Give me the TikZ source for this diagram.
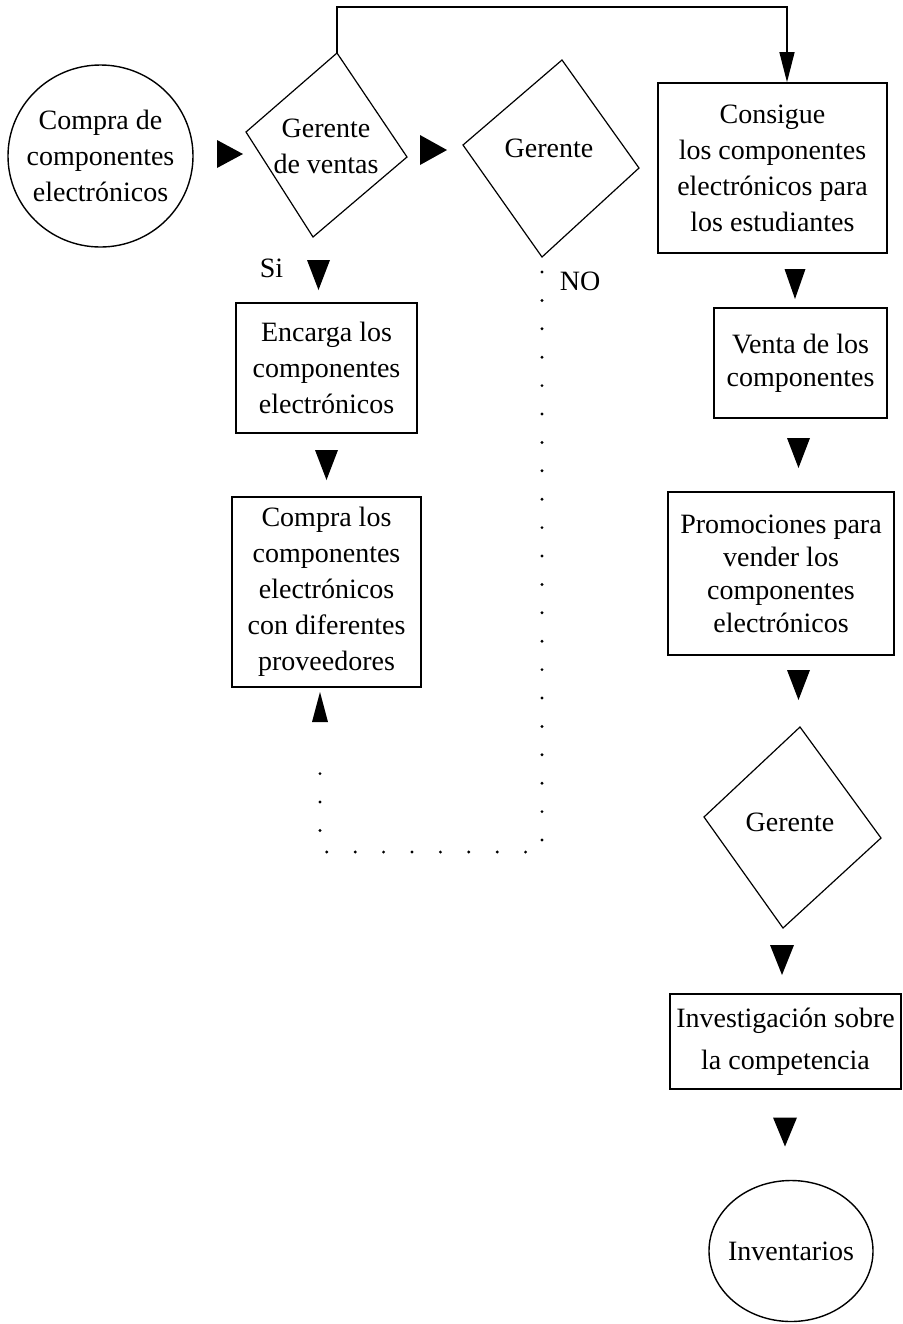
\documentclass[tikz,border=0pt]{standalone}
\usepackage{fontspec}
\setmainfont{Liberation Serif}
\usetikzlibrary{shapes.geometric,arrows.meta,calc}
\begin{document}
\begin{tikzpicture}[x=0.5pt,y=-0.5pt,
  every node/.style={font=\fontsize{14}{18}\selectfont, align=center, inner sep=0pt},
  box/.style={draw, rectangle, line width=0.8pt},
  oval/.style={draw, ellipse, line width=0.7pt, inner xsep=-8pt, inner ysep=0pt},
  diam/.style={draw, line width=0.6pt, line join=miter},
  link/.style={draw, line width=0.6pt},
  dotline/.style={line width=1.6pt, line cap=round, dash pattern=on 0pt off 14.2pt},
  pics/tri/.style args={#1/#2}{code={\fill (-#1/2,-#2/2) -- (#1/2,-#2/2) -- (0,#2/2) -- cycle;}}
]
\useasboundingbox[fill=white] (0,0) rectangle (902,1324);

% start and end events
\node[oval, minimum width=92.5pt, minimum height=91pt] (inicio) at (100.5,156)
  {Compra de\\componentes\\electrónicos};
\node[oval, minimum width=82pt, minimum height=70.5pt] (inventarios) at (791,1251)
  {Inventarios};

% decision 1: sales manager
\begin{scope}[shift={(326,145)}]
  \coordinate (g1t) at (11,-92);
  \coordinate (g1r) at (81,12);
  \coordinate (g1b) at (-13,92);
  \coordinate (g1l) at (-80,-13);
  \draw[diam] (g1t) -- (g1r) -- (g1b) -- (g1l) -- cycle;
  \node (gerventas) at (0,1) {Gerente\\de ventas};
\end{scope}

% decision 2: manager
\begin{scope}[shift={(551.5,157.5)}]
  \coordinate (g2t) at (10.5,-97.5);
  \coordinate (g2r) at (87.5,10.5);
  \coordinate (g2b) at (-9.5,99.5);
  \coordinate (g2l) at (-88.5,-12.5);
  \draw[diam] (g2t) -- (g2r) -- (g2b) -- (g2l) -- cycle;
  \node (gerente2) at (-2.5,-9.5) {Gerente};
\end{scope}

% decision 3: manager
\begin{scope}[shift={(792,827.5)}]
  \coordinate (g3t) at (8,-100.5);
  \coordinate (g3r) at (89,10.5);
  \coordinate (g3b) at (-9,100.5);
  \coordinate (g3l) at (-88,-10.5);
  \draw[diam] (g3t) -- (g3r) -- (g3b) -- (g3l) -- cycle;
  \node (gerente3) at (-2,-5.5) {Gerente};
\end{scope}

% process steps
\node[box, minimum width=90.5pt, minimum height=65pt] (encarga) at (326.5,368)
  {Encarga los\\componentes\\electrónicos};
\node[box, minimum width=94.5pt, minimum height=95pt] (compra) at (326.5,592)
  {Compra los\\componentes\\electrónicos\\con diferentes\\proveedores};
\node[box, minimum width=114.5pt, minimum height=85pt] (consigue) at (772.5,168)
  {Consigue\\los componentes\\electrónicos para\\los estudiantes};
\node[box, minimum width=86.5pt, minimum height=55pt,
      font=\fontsize{14}{16.5}\selectfont] (venta) at (800.5,363)
  {Venta de los\\componentes};
\node[box, minimum width=113pt, minimum height=81.5pt,
      font=\fontsize{14}{16.5}\selectfont] (promo) at (781,573.5)
  {Promociones para\\vender los\\componentes\\electrónicos};
\node[box, minimum width=115.5pt, minimum height=47.5pt,
      font=\fontsize{14}{21}\selectfont] (investiga) at (785.5,1041.5)
  {Investigación sobre\\la competencia};

% branch labels
\node (si) at (271.5,268) {Si};
\node (no) at (580,281) {NO};

% line from the first decision over the top to the supply step
\draw[link, -{Triangle[length=15pt,width=7.5pt]}]
  (g1t) -- ++(0,-46) -| ([xshift=7.25pt]consigue.north);

% dotted return path from the second decision back to the purchase step
\coordinate (dcorner) at (320,852);
\draw[dotline] ([yshift=-7.5pt]g2b) |- (dcorner) -- ([yshift=-30pt]compra.south -| dcorner);

% flow arrowheads
\pic[rotate=90] (a1) at (230,154) {tri=28/26};
\pic[rotate=90] (a2) at (433.5,150) {tri=30/27};
\pic (a3) at (318.5,275) {tri=23/30};
\pic (a4) at (326.5,465) {tri=23/30};
\pic[rotate=180] (a5) at (320,707) {tri=16/30};
\pic (a6) at (795,284) {tri=21/30};
\pic (a7) at (798.5,453) {tri=23/30};
\pic (a8) at (798.5,685) {tri=23/30};
\pic (a9) at (782,960) {tri=24/30};
\pic (a10) at (785,1132) {tri=24/29};
\end{tikzpicture}
\end{document}
